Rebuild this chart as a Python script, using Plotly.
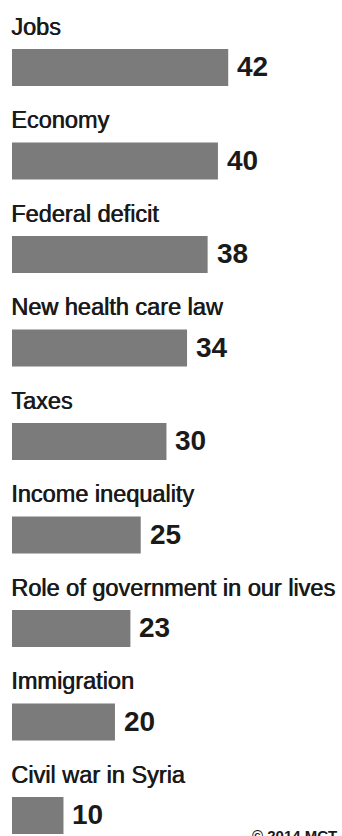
import plotly.graph_objects as go

categories = ["Jobs", "Economy", "Federal deficit", "New health care law", "Taxes",
              "Income inequality", "Role of government in our lives", "Immigration",
              "Civil war in Syria"]
values = [42, 40, 38, 34, 30, 25, 23, 20, 10]
credit = "© 2014 MCT"

BAR = "#7b7b7b"
INK = "#1a1a1a"
LABEL_FONT = dict(family="Liberation Sans, Arial, sans-serif", size=23.5, color=INK,
                  shadow="0.7px 0 0 #1a1a1a")
NUM_FONT = dict(family="Liberation Sans, Arial, sans-serif", size=28, color=INK)

fig = go.Figure(go.Bar(
    x=values, y=categories, orientation="h",
    marker=dict(color=BAR, line=dict(width=0)),
    width=0.396, hoverinfo="skip",
))

ann = []
for c, v in zip(categories, values):
    ann.append(dict(x=0, y=c, xref="x", yref="y", text=c, showarrow=False,
                    xanchor="left", yanchor="middle", xshift=-3, yshift=41, font=LABEL_FONT))
    ann.append(dict(x=v, y=c, xref="x", yref="y", text="<b>%d</b>" % v, showarrow=False,
                    xanchor="left", yanchor="middle", xshift=7, yshift=1, font=NUM_FONT))
ann.append(dict(x=1, y=0, xref="paper", yref="paper", text="<b>%s</b>" % credit, showarrow=False,
                xanchor="right", yanchor="top", xshift=-3, yshift=11,
                font=dict(family="Liberation Sans, Arial, sans-serif", size=15, color=INK)))

fig.update_layout(
    width=342, height=836,
    margin=dict(l=12, r=0, t=0, b=0),
    paper_bgcolor="white", plot_bgcolor="white",
    showlegend=False,
    annotations=ann,
    xaxis=dict(range=[0, 64.1], visible=False, fixedrange=True),
    yaxis=dict(type="category", categoryorder="array", categoryarray=categories,
               range=[8.219, -0.722], visible=False, fixedrange=True),
)

fig.write_html("out.html", config={"displayModeBar": False})
